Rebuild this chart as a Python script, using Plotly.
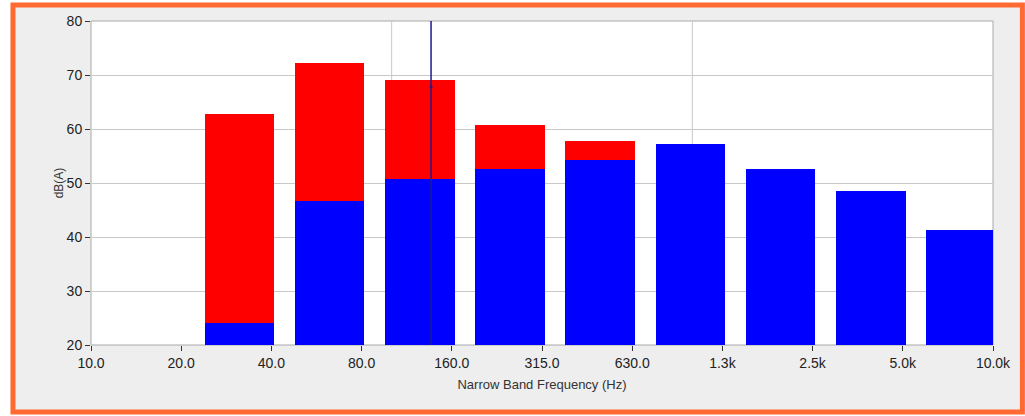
import plotly.graph_objects as go

# ---- data -------------------------------------------------------------
tick_labels = ["10.0", "20.0", "40.0", "80.0", "160.0", "315.0", "630.0",
               "1.3k", "2.5k", "5.0k", "10.0k"]
bands = ["40.0", "80.0", "160.0", "315.0", "630.0", "1.3k", "2.5k", "5.0k", "10.0k"]
red_db = [62.8, 72.2, 69.1, 60.7, 57.8, None, None, None, None]
blue_db = [24.1, 46.7, 50.7, 52.6, 54.3, 57.2, 52.6, 48.5, 41.3]
y_ticks = [20, 30, 40, 50, 60, 70, 80]
cursor_x = 3.77
cursor_y = 67.8

band_pos = [tick_labels.index(b) for b in bands]

fig = go.Figure()
bar_style = dict(offset=-0.74, width=0.77)
fig.add_trace(go.Bar(x=band_pos, y=red_db, marker=dict(color="#FF0000", line=dict(width=0)),
                     **bar_style, hoverinfo="y"))
fig.add_trace(go.Bar(x=band_pos, y=blue_db, marker=dict(color="#0000FF", line=dict(width=0)),
                     **bar_style, hoverinfo="y"))
fig.add_trace(go.Scatter(x=[cursor_x, cursor_x], y=[y_ticks[0], y_ticks[-1]], mode="lines",
                         line=dict(color="#1C1C8C", width=1.5), hoverinfo="skip"))
fig.add_trace(go.Scatter(x=[cursor_x], y=[cursor_y], mode="markers",
                         marker=dict(color="#1C1C8C", size=3), hoverinfo="skip"))

shapes = [
    # outer frame
    dict(type="rect", xref="paper", yref="paper", x0=-0.0865, x1=1.0326, y0=-0.207, y1=1.049,
         line=dict(color="#FF6A33", width=5), fillcolor="#EEEEEE", layer="below"),
    # plot area
    dict(type="rect", xref="paper", yref="paper", x0=0, x1=1, y0=0, y1=1,
         line=dict(color="#A8A8A8", width=1), fillcolor="#FFFFFF", layer="below"),
    # vertical grid lines
    dict(type="line", xref="x domain", yref="paper", x0=1/3, x1=1/3, y0=0, y1=1,
         line=dict(color="#C8C8C8", width=1), layer="below"),
    dict(type="line", xref="x domain", yref="paper", x0=2/3, x1=2/3, y0=0, y1=1,
         line=dict(color="#C8C8C8", width=1), layer="below"),
]

font = "Liberation Sans, Arial, sans-serif"
fig.update_layout(
    width=1025, height=416,
    margin=dict(l=91, r=32, t=21, b=71),
    paper_bgcolor="#FFFFFF", plot_bgcolor="#FFFFFF",
    barmode="overlay", bargap=0,
    showlegend=False,
    shapes=shapes,
    font=dict(family=font, color="#222222", size=14),
    xaxis=dict(range=[0, 10], tickvals=list(range(len(tick_labels))), ticktext=tick_labels,
               ticks="outside", ticklen=5, tickcolor="#333333", tickwidth=1,
               showgrid=False, zeroline=False, showline=False,
               tickfont=dict(size=14, color="#222222"),
               title=dict(text="Narrow Band Frequency (Hz)", font=dict(size=13, color="#333333"),
                          standoff=10)),
    yaxis=dict(range=[20, 80], tickvals=y_ticks, ticktext=[str(v) for v in y_ticks],
               ticks="outside", ticklen=5, tickcolor="#333333", tickwidth=1,
               showgrid=True, gridcolor="#C8C8C8", gridwidth=1, zeroline=False,
               showline=False, tickfont=dict(size=14, color="#222222"),
               title=dict(text="dB(A)", font=dict(size=12, color="#333333"), standoff=0)),
)

fig.write_html("out.html", config={"displayModeBar": False},
               post_script="document.body.style.margin='0px';document.body.style.overflow='hidden';")
